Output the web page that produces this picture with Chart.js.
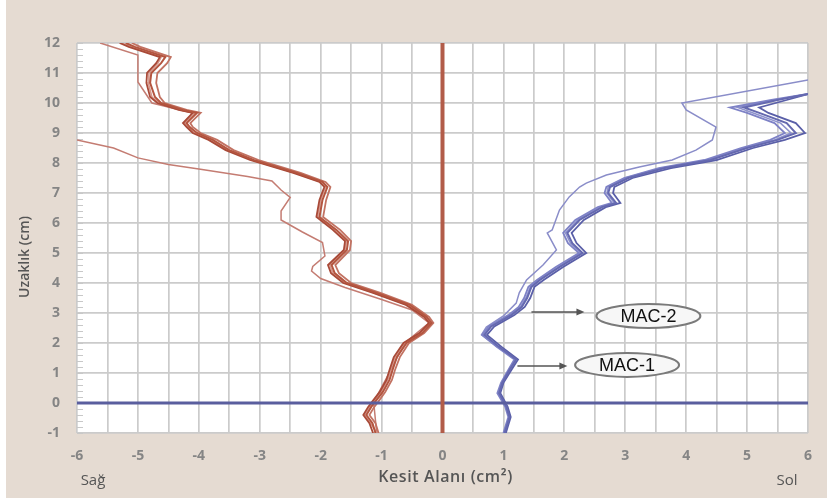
<!DOCTYPE html>
<html>
<head>
<meta charset="utf-8">
<script src="https://cdn.jsdelivr.net/npm/chart.js@4.4.1/dist/chart.umd.min.js"></script>
<style>
  body { margin: 0; background: #fff; }
  #wrap { position: relative; width: 827px; height: 504px; }
  #bg { position: absolute; left: 6px; top: 0; width: 821px; height: 498px; background: #e5dbd2; }
  canvas { position: absolute; left: 0; top: 0; }
</style>
</head>
<body>
<div id="wrap"><div id="bg"></div><canvas id="chart" width="827" height="504"></canvas></div>
<script>
// eksen aralıkları
const xRange = [-6, 6];
const yRange = [-1, 12];

// sağ taraf (kırmızı) - ortak uzaklık değerleri
const redY = [-1, -0.67, -0.4, -0.13, 0.03, 0.37, 0.77, 1.1, 1.53, 2.0, 2.33, 2.67, 2.87, 3.27, 3.67, 4.0, 4.33, 4.6, 5.1, 5.4, 5.77, 6.2, 6.77, 7.2, 7.37, 7.67, 8.1, 8.43, 8.77, 9.0, 9.2, 9.33, 9.67, 9.77, 10.0, 10.2, 10.67, 11.0, 11.33, 11.53, 11.87, 12];
const redA = [-1.10, -1.15, -1.25, -1.17, -1.11, -0.98, -0.87, -0.82, -0.75, -0.59, -0.33, -0.18, -0.26, -0.54, -1.08, -1.57, -1.77, -1.82, -1.57, -1.55, -1.74, -2.02, -1.97, -1.89, -1.97, -2.39, -3.1, -3.5, -3.77, -4.03, -4.15, -4.2, -4.03, -4.26, -4.62, -4.72, -4.8, -4.78, -4.62, -4.55, -5.05, -5.2];
const redB = [-1.05, -1.1, -1.2, -1.12, -1.06, -0.94, -0.83, -0.78, -0.7, -0.55, -0.3, -0.15, -0.22, -0.5, -1.02, -1.5, -1.7, -1.76, -1.52, -1.5, -1.68, -1.96, -1.91, -1.84, -1.92, -2.33, -3.02, -3.43, -3.7, -3.97, -4.1, -4.14, -3.97, -4.2, -4.56, -4.64, -4.7, -4.68, -4.52, -4.46, -4.96, -5.1];
const redC = [-1.14, -1.2, -1.3, -1.22, -1.16, -1.03, -0.92, -0.87, -0.8, -0.64, -0.38, -0.22, -0.3, -0.6, -1.14, -1.63, -1.83, -1.88, -1.62, -1.6, -1.8, -2.07, -2.02, -1.94, -2.02, -2.45, -3.16, -3.56, -3.84, -4.1, -4.2, -4.26, -4.1, -4.33, -4.68, -4.8, -4.86, -4.85, -4.7, -4.64, -5.15, -5.3];
const redD = [-1.08, -1.18, -1.28, -1.2, -1.14, -1.01, -0.9, -0.85, -0.78, -0.62, -0.36, -0.2, -0.28, -0.58, -1.12, -1.6, -1.8, -1.85, -1.6, -1.58, -1.77, -2.05, -2.0, -1.92, -2.0, -2.42, -3.13, -3.53, -3.8, -4.07, -4.18, -4.23, -4.06, -4.3, -4.65, -4.77, -4.83, -4.82, -4.67, -4.62, -5.1, -5.27];
// ayrılan kırmızı çizgiler
const redLowY = [-1, 0.03, 1.1, 2.0, 2.67, 3.1, 3.45, 3.85, 4.15, 4.4, 4.55, 4.9, 5.35, 5.7, 6.1, 6.4, 6.85, 7.1, 7.4, 7.55, 7.8, 7.95, 8.17, 8.5, 8.77];
const redLowX = [-1.08, -1.13, -0.85, -0.62, -0.22, -0.5, -1.0, -1.6, -2.0, -2.15, -2.13, -1.93, -1.97, -2.3, -2.65, -2.65, -2.5, -2.65, -2.8, -3.2, -4.0, -4.5, -5.0, -5.4, -6.0];
const redTopY = [9.0, 9.33, 9.67, 10.0, 10.7, 11.6, 12];
const redTopX = [-4.08, -4.25, -4.1, -4.77, -5.0, -5.0, -5.62];

// sol taraf (mavi) - ortak uzaklık değerleri
const blueY = [-1, -0.47, -0.13, 0.33, 0.67, 1.1, 1.45, 1.87, 2.27, 2.55, 2.93, 3.2, 3.5, 3.87, 4.1, 4.53, 5.0, 5.33, 5.67, 6.1, 6.53, 6.67, 7.0, 7.2, 7.5, 7.83, 8.1, 8.5, 8.77, 9.0, 9.33, 9.67, 9.85, 10.1, 10.3];
const blueA = [1.02, 1.1, 1.05, 0.93, 0.98, 1.1, 1.21, 0.93, 0.69, 0.8, 1.13, 1.3, 1.39, 1.46, 1.6, 1.92, 2.3, 2.13, 2.05, 2.25, 2.62, 2.85, 2.72, 2.75, 3.05, 3.65, 4.4, 5.0, 5.5, 5.8, 5.65, 5.2, 4.95, 5.5, 6.0];
const blueB = [1.0, 1.08, 1.03, 0.9, 0.96, 1.08, 1.18, 0.89, 0.65, 0.76, 1.08, 1.25, 1.34, 1.41, 1.55, 1.86, 2.24, 2.06, 1.98, 2.18, 2.55, 2.78, 2.66, 2.69, 2.98, 3.55, 4.3, 4.9, 5.38, 5.62, 5.45, 5.0, 4.72, 5.4, 6.0];
const blueC = [1.04, 1.12, 1.07, 0.95, 1.0, 1.13, 1.24, 0.97, 0.73, 0.85, 1.18, 1.35, 1.44, 1.51, 1.66, 1.98, 2.36, 2.2, 2.12, 2.32, 2.68, 2.92, 2.8, 2.82, 3.12, 3.75, 4.5, 5.1, 5.62, 5.95, 5.8, 5.35, 5.2, 5.65, 6.0];
const blueD = [1.02, 1.11, 1.04, 0.92, 0.97, 1.1, 1.2, 0.91, 0.67, 0.78, 1.1, 1.28, 1.37, 1.44, 1.58, 1.9, 2.27, 2.1, 2.02, 2.22, 2.6, 2.82, 2.7, 2.72, 3.0, 3.6, 4.35, 4.95, 5.45, 5.72, 5.55, 5.1, 4.85, 5.45, 6.0];
// ayrılan mavi çizgi
const blueOutY = [1.87, 2.27, 2.53, 2.9, 3.33, 3.67, 4.1, 4.6, 5.1, 5.67, 5.77, 6.43, 6.87, 7.2, 7.33, 7.6, 7.87, 8.1, 8.43, 8.77, 9.2, 9.77, 10.0, 10.77];
const blueOutX = [0.9, 0.64, 0.72, 1.0, 1.21, 1.26, 1.38, 1.65, 1.87, 1.72, 1.8, 1.92, 2.08, 2.25, 2.36, 2.69, 3.23, 3.77, 4.16, 4.43, 4.49, 4.0, 3.93, 6.0];

// etiketler (eksen değerleriyle)
const labels = ["MAC-2", "MAC-1"];
const labelX = [3.38, 3.03];
const labelY = [2.9, 1.27];
const arrowFrom = [1.46, 1.23];
const arrowTo = [2.33, 2.05];
const arrowY = [3.03, 1.23];

function pts(xs, ys) {
  return xs.map((x, i) => ({ x: x, y: ys[i] }));
}

function line(data, color, width) {
  return { data: data, borderColor: color, borderWidth: width, showLine: true, pointRadius: 0, tension: 0, fill: false };
}

const plotBg = {
  id: 'plotBg',
  beforeDraw(chart) {
    const { ctx, chartArea: a } = chart;
    ctx.save();
    ctx.fillStyle = '#ffffff';
    ctx.fillRect(a.left, a.top, a.right - a.left, a.bottom - a.top);
    ctx.restore();
  },
  beforeDatasetsDraw(chart) {
    // sol kenardaki küçük çentikler
    const { ctx, chartArea: a, scales } = chart;
    ctx.save();
    ctx.strokeStyle = '#c8c8c8';
    ctx.lineWidth = 1;
    for (let v = yRange[0]; v <= yRange[1]; v += 0.2) {
      const py = Math.round(scales.y.getPixelForValue(v)) + 0.5;
      ctx.beginPath();
      ctx.moveTo(a.left, py);
      ctx.lineTo(a.left + 6, py);
      ctx.stroke();
    }
    ctx.restore();
  }
};

const notes = {
  id: 'notes',
  afterDatasetsDraw(chart) {
    const { ctx, scales, chartArea: a } = chart;
    ctx.save();
    labels.forEach((t, i) => {
      const x1 = scales.x.getPixelForValue(arrowFrom[i]);
      const x2 = scales.x.getPixelForValue(arrowTo[i]);
      const ay = scales.y.getPixelForValue(arrowY[i]);
      ctx.strokeStyle = '#555';
      ctx.fillStyle = '#555';
      ctx.lineWidth = 1.5;
      ctx.beginPath();
      ctx.moveTo(x1, ay);
      ctx.lineTo(x2 - 6, ay);
      ctx.stroke();
      ctx.beginPath();
      ctx.moveTo(x2, ay);
      ctx.lineTo(x2 - 8, ay - 3.5);
      ctx.lineTo(x2 - 8, ay + 3.5);
      ctx.closePath();
      ctx.fill();

      const cx = scales.x.getPixelForValue(labelX[i]);
      const cy = scales.y.getPixelForValue(labelY[i]);
      ctx.beginPath();
      ctx.ellipse(cx, cy, 52, 12, 0, 0, Math.PI * 2);
      ctx.fillStyle = '#f7f7f7';
      ctx.fill();
      ctx.lineWidth = 2;
      ctx.strokeStyle = '#7a7a7a';
      ctx.stroke();
      ctx.fillStyle = '#111';
      ctx.font = '18px "Liberation Sans", Arial, sans-serif';
      ctx.textAlign = 'center';
      ctx.textBaseline = 'middle';
      ctx.fillText(t, cx, cy + 1);
    });

    // eksen başlıkları
    ctx.fillStyle = '#555555';
    ctx.textAlign = 'center';
    ctx.textBaseline = 'middle';
    ctx.font = '600 16px "Open Sans", sans-serif';
    ctx.letterSpacing = '0.6px';
    ctx.fillText('Kesit Alanı (cm²)', (a.left + a.right) / 2 + 3, 477);
    ctx.letterSpacing = '0px';
    ctx.font = '15px "Open Sans", sans-serif';
    ctx.fillText('Sağ', a.left + 16, 481);
    ctx.fillText('Sol', a.right - 21, 481);

    ctx.save();
    ctx.translate(25, 257);
    ctx.rotate(-Math.PI / 2);
    ctx.font = '600 14px "Open Sans", sans-serif';
    ctx.fillText('Uzaklık (cm)', 0, 0);
    ctx.restore();
    ctx.restore();
  }
};

new Chart(document.getElementById('chart'), {
  type: 'scatter',
  data: {
    datasets: [
      line(pts([0, 0], yRange), '#b25c49', 4),
      line(pts(xRange, [0, 0]), '#5a5e9e', 3),
      line(pts(redA, redY), '#b4553f', 2),
      line(pts(redB, redY), '#c27262', 1.8),
      line(pts(redC, redY), '#a94a38', 1.8),
      line(pts(redD, redY), '#d6978b', 1.6),
      line(pts(redLowX, redLowY), '#c47c72', 1.5),
      line(pts(redTopX, redTopY), '#c47c72', 1.5),
      line(pts(blueA, blueY), '#6569b0', 2),
      line(pts(blueB, blueY), '#7e82c6', 1.8),
      line(pts(blueC, blueY), '#5a5fa8', 1.8),
      line(pts(blueD, blueY), '#8e92cd', 1.6),
      line(pts(blueOutX, blueOutY), '#8a8dc9', 1.5)
    ]
  },
  options: {
    responsive: false,
    animation: false,
    layout: { padding: { left: 0, right: 18, top: 43, bottom: 0 } },
    plugins: { legend: { display: false }, tooltip: { enabled: false } },
    scales: {
      x: {
        type: 'linear',
        min: xRange[0],
        max: xRange[1],
        afterFit(scale) { scale.height = 71; },
        border: { display: false },
        grid: { color: '#cbcbcb', lineWidth: 1.7, drawTicks: false },
        ticks: {
          stepSize: 0.5,
          autoSkip: false,
          maxRotation: 0,
          padding: 15,
          color: '#858585',
          font: { family: '"Open Sans", sans-serif', size: 14, weight: 'bold' },
          callback: v => Number.isInteger(v) ? String(v) : ''
        }
      },
      y: {
        type: 'linear',
        min: yRange[0],
        max: yRange[1],
        afterFit(scale) { scale.width = 77; },
        border: { display: false },
        grid: { color: '#cbcbcb', lineWidth: 1.7, drawTicks: false },
        ticks: {
          stepSize: 1,
          autoSkip: false,
          padding: 17,
          color: '#858585',
          font: { family: '"Open Sans", sans-serif', size: 14, weight: 'bold' }
        }
      }
    }
  },
  plugins: [plotBg, notes]
});
</script>
</body>
</html>
